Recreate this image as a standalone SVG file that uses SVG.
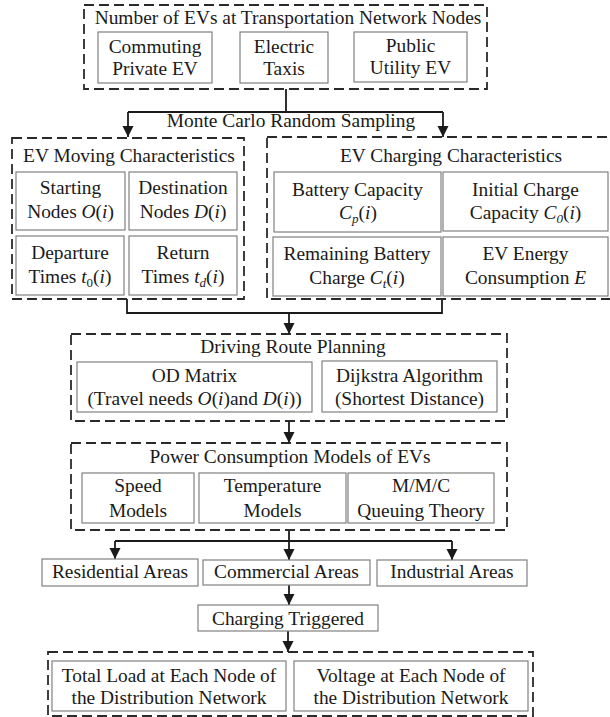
<svg xmlns="http://www.w3.org/2000/svg" width="610" height="717" viewBox="0 0 610 717">
<style>
.dash{fill:none;stroke:#2a2a2a;stroke-width:1.8;stroke-dasharray:10 5}
.box{fill:#fff;stroke:#808080;stroke-width:1.2}
text{font-family:"Liberation Serif","Times New Roman",serif;font-size:19.4px;fill:#1a1a1a;text-anchor:middle}
.i{font-style:italic}
.sub{font-size:13px}
.conn{fill:none;stroke:#1a1a1a;stroke-width:1.8}
</style>
<defs>
<marker id="arr" markerUnits="userSpaceOnUse" markerWidth="12" markerHeight="12" refX="11" refY="5.5" orient="auto">
<path d="M0,0 L11,5.5 L0,11 z" fill="#1a1a1a"/>
</marker>
</defs>
<rect width="610" height="717" fill="#fff"/>

<g id="connectors">
<path class="conn" d="M286,89 V112"/>
<path class="conn" d="M128,112 H443"/>
<path class="conn" d="M128,112 V137" marker-end="url(#arr)"/>
<path class="conn" d="M443,112 V137" marker-end="url(#arr)"/>
<path class="conn" d="M127,299 V313 H442 V299"/>
<path class="conn" d="M289,313 V334" marker-end="url(#arr)"/>
<path class="conn" d="M289,421 V443" marker-end="url(#arr)"/>
<path class="conn" d="M289,530 V541"/>
<path class="conn" d="M115,541 H452"/>
<path class="conn" d="M115,541 V559" marker-end="url(#arr)"/>
<path class="conn" d="M289,541 V560" marker-end="url(#arr)"/>
<path class="conn" d="M452,541 V560" marker-end="url(#arr)"/>
<path class="conn" d="M289,585 V605" marker-end="url(#arr)"/>
<path class="conn" d="M288,631 V652" marker-end="url(#arr)"/>
</g>
<text x="291" y="127">Monte Carlo Random Sampling</text>

<g id="ev-number">
<rect class="dash" x="84" y="5" width="403" height="84"/>
<text x="288" y="24">Number of EVs at Transportation Network Nodes</text>
</g>
<g id="commuting">
<rect class="box" x="98" y="32" width="114" height="51"/>
<text x="155" y="53">Commuting</text><text x="155" y="75">Private EV</text>
</g>
<g id="taxis">
<rect class="box" x="240" y="32" width="88" height="51"/>
<text x="284" y="53">Electric</text><text x="284" y="75">Taxis</text>
</g>
<g id="public">
<rect class="box" x="354" y="32" width="113" height="50"/>
<text x="410.5" y="52">Public</text><text x="410.5" y="74">Utility EV</text>
</g>

<g id="moving">
<rect class="dash" x="12" y="138" width="232" height="161"/>
<text x="129" y="162">EV Moving Characteristics</text>
</g>
<g id="starting">
<rect class="box" x="16" y="172" width="109" height="58"/>
<text x="70.5" y="194">Starting</text>
<text x="70.5" y="218">Nodes <tspan class="i">O</tspan>(<tspan class="i">i</tspan>)</text>
</g>
<g id="destination">
<rect class="box" x="129" y="172" width="108" height="58"/>
<text x="183" y="194">Destination</text>
<text x="183" y="218">Nodes <tspan class="i">D</tspan>(<tspan class="i">i</tspan>)</text>
</g>
<g id="departure">
<rect class="box" x="16" y="236" width="108" height="59"/>
<text x="70" y="259">Departure</text>
<text x="70" y="283">Times <tspan class="i">t</tspan><tspan class="sub" dy="4">0</tspan><tspan dy="-4">(</tspan><tspan class="i">i</tspan>)</text>
</g>
<g id="return">
<rect class="box" x="129" y="236" width="108" height="59"/>
<text x="183" y="259">Return</text>
<text x="183" y="283">Times <tspan class="i">t</tspan><tspan class="sub i" dy="4">d</tspan><tspan dy="-4">(</tspan><tspan class="i">i</tspan>)</text>
</g>

<g id="charging">
<rect class="dash" x="267" y="137" width="346" height="162"/>
<text x="451" y="162">EV Charging Characteristics</text>
</g>
<g id="battery">
<rect class="box" x="274" y="172" width="167" height="60"/>
<text x="357.5" y="196">Battery Capacity</text>
<text x="358" y="219"><tspan class="i">C</tspan><tspan class="sub i" dy="4">p</tspan><tspan dy="-4">(</tspan><tspan class="i">i</tspan>)</text>
</g>
<g id="initial">
<rect class="box" x="443" y="172" width="165" height="59"/>
<text x="525.5" y="196">Initial Charge</text>
<text x="525.5" y="219">Capacity <tspan class="i">C</tspan><tspan class="sub i" dy="4">0</tspan><tspan dy="-4">(</tspan><tspan class="i">i</tspan>)</text>
</g>
<g id="remaining">
<rect class="box" x="273" y="237" width="168" height="59"/>
<text x="357" y="260">Remaining Battery</text>
<text x="357" y="284">Charge <tspan class="i">C</tspan><tspan class="sub i" dy="4">t</tspan><tspan dy="-4">(</tspan><tspan class="i">i</tspan>)</text>
</g>
<g id="energy">
<rect class="box" x="443" y="237" width="165" height="59"/>
<text x="525.5" y="260">EV Energy</text>
<text x="525.5" y="284">Consumption <tspan class="i">E</tspan></text>
</g>

<g id="route">
<rect class="dash" x="71" y="334" width="436" height="87"/>
<text x="293" y="353">Driving Route Planning</text>
</g>
<g id="od">
<rect class="box" x="77" y="362" width="235" height="50"/>
<text x="194.5" y="382">OD Matrix</text>
<text x="194.5" y="405">(Travel needs <tspan class="i">O</tspan>(<tspan class="i">i</tspan>)and <tspan class="i">D</tspan>(<tspan class="i">i</tspan>))</text>
</g>
<g id="dijkstra">
<rect class="box" x="322" y="361" width="175" height="51"/>
<text x="409.5" y="382">Dijkstra Algorithm</text>
<text x="409.5" y="405">(Shortest Distance)</text>
</g>

<g id="power">
<rect class="dash" x="71" y="443" width="436" height="87"/>
<text x="290" y="463">Power Consumption Models of EVs</text>
</g>
<g id="speed">
<rect class="box" x="82" y="473" width="112" height="50"/>
<text x="138" y="492">Speed</text><text x="138" y="517">Models</text>
</g>
<g id="temperature">
<rect class="box" x="199" y="473" width="147" height="50"/>
<text x="272.5" y="492">Temperature</text><text x="272.5" y="517">Models</text>
</g>
<g id="queuing">
<rect class="box" x="348" y="473" width="146" height="50"/>
<text x="421" y="492">M/M/C</text><text x="421" y="517">Queuing Theory</text>
</g>

<g id="residential">
<rect class="box" x="42" y="559" width="156" height="27"/>
<text x="120" y="578">Residential Areas</text>
</g>
<g id="commercial">
<rect class="box" x="203" y="560" width="167" height="25"/>
<text x="286.5" y="578">Commercial Areas</text>
</g>
<g id="industrial">
<rect class="box" x="377" y="560" width="150" height="26"/>
<text x="452" y="578">Industrial Areas</text>
</g>
<g id="triggered">
<rect class="box" x="198" y="605" width="180" height="26"/>
<text x="288" y="625">Charging Triggered</text>
</g>

<g id="output">
<rect class="dash" x="48" y="652" width="485" height="64"/>
</g>
<g id="total-load">
<rect class="box" x="52" y="661" width="234" height="50"/>
<text x="169" y="682">Total Load at Each Node of</text>
<text x="169" y="704">the Distribution Network</text>
</g>
<g id="voltage">
<rect class="box" x="294" y="661" width="234" height="50"/>
<text x="411" y="682">Voltage at Each Node of</text>
<text x="411" y="704">the Distribution Network</text>
</g>
</svg>
